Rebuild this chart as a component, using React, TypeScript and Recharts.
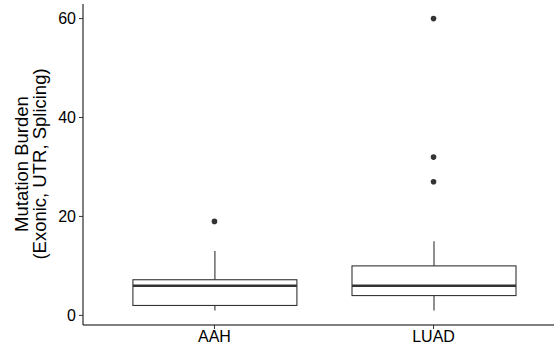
import React from 'react';
import { ComposedChart, Bar, Scatter, XAxis, YAxis } from 'recharts';

// box plot numbers
const groups = ['AAH', 'LUAD'];
const lowWhisker = [1, 1];
const q1 = [2, 4];
const median = [6, 6];
const q3 = [7.2, 10];
const highWhisker = [13, 15];
const outlierGroup = [1, 2, 2, 2];
const outlierValue = [19, 60, 32, 27];
const yTicks = [0, 20, 40, 60];

const boxes = groups.map((name, i) => ({
  pos: i + 1,
  name,
  lo: lowWhisker[i],
  q1: q1[i],
  med: median[i],
  q3: q3[i],
  hi: highWhisker[i],
}));

const outliers = outlierValue.map((v, i) => ({ pos: outlierGroup[i], v }));

const INK = '#333333';

function BoxShape(props: any) {
  const { x, width, payload } = props;
  let { y, height } = props;
  if (height < 0) {
    y = y + height;
    height = -height;
  }
  const d = payload;
  const per = height / (d.hi - d.lo);
  const py = (v: number) => y + (d.hi - v) * per;
  const cx = x + width / 2;
  return (
    <g>
      <line x1={cx} x2={cx} y1={py(d.hi)} y2={py(d.q3)} stroke={INK} strokeWidth={1.1} />
      <line x1={cx} x2={cx} y1={py(d.q1)} y2={py(d.lo)} stroke={INK} strokeWidth={1.1} />
      <rect
        x={x}
        y={py(d.q3)}
        width={width}
        height={py(d.q1) - py(d.q3)}
        fill="#ffffff"
        stroke={INK}
        strokeWidth={1.1}
      />
      <line x1={x} x2={x + width} y1={py(d.med)} y2={py(d.med)} stroke={INK} strokeWidth={2.6} />
    </g>
  );
}

const Dot = (props: any) => <circle cx={props.cx} cy={props.cy} r={2.8} fill={INK} />;

const TitleY = () => (
  <text
    transform="translate(0,164) rotate(-90)"
    textAnchor="middle"
    fontSize={18.5}
    fill="#000"
    fontFamily="'Liberation Sans', Arial, sans-serif"
  >
    <tspan x={0} y={27.5}>Mutation Burden</tspan>
    <tspan x={0} y={45.5}>(Exonic, UTR, Splicing)</tspan>
  </text>
);

export default function App() {
  return (
    <div
      style={{
        position: 'absolute',
        left: 0,
        top: 0,
        width: 554,
        height: 351,
        overflow: 'hidden',
        background: '#fff',
        fontFamily: "'Liberation Sans', Arial, sans-serif",
      }}
    >
      <ComposedChart width={570} height={351} data={boxes} margin={{ top: 4, right: 5, bottom: 0, left: 0 }}>
        <XAxis
          dataKey="pos"
          type="number"
          domain={[0.4, 2.6]}
          ticks={[1, 2]}
          allowDataOverflow
          tickFormatter={(v: number) => groups[v - 1]}
          height={26}
          stroke="#000"
          tickSize={4}
          tickMargin={2}
          tick={{ fill: '#000', fontSize: 16 }}
          tickLine={{ stroke: INK }}
        />
        <YAxis
          type="number"
          domain={[-1.95, 62.95]}
          ticks={yTicks}
          allowDataOverflow
          width={83}
          stroke="#000"
          tickSize={4}
          tickMargin={3}
          tick={{ fill: '#000', fontSize: 16 }}
          tickLine={{ stroke: INK }}
          label={{ content: () => <TitleY /> }}
        />
        <Bar
          dataKey={(d: any) => [d.lo, d.hi]}
          barSize={164}
          shape={<BoxShape />}
          isAnimationActive={false}
        />
        <Scatter data={outliers} dataKey="v" shape={<Dot />} isAnimationActive={false} />
      </ComposedChart>
    </div>
  );
}
